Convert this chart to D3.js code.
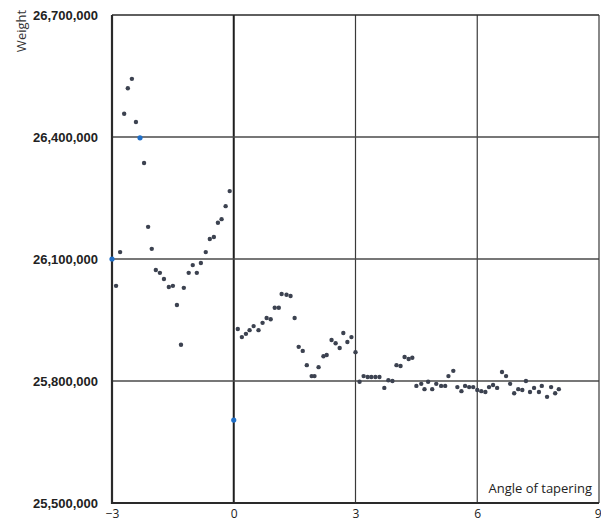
<!DOCTYPE html>
<html>
<head>
<meta charset="utf-8">
<script src="https://cdn.jsdelivr.net/npm/d3@7"></script>
<style>
  html, body { margin: 0; padding: 0; background: #fff; }
  svg { display: block; }
</style>
</head>
<body>
<svg id="chart" width="601" height="522"></svg>
<script>
/* data */
const angle = [
  -2.9, -2.8, -2.7, -2.61, -2.51, -2.41, -2.21, -2.11, -2.02, -1.92,
  -1.82, -1.72, -1.6, -1.5, -1.4, -1.3, -1.23, -1.11, -1.01, -0.91,
  -0.81, -0.69, -0.59, -0.49, -0.39, -0.3, -0.2, -0.1,
  0.1, 0.2, 0.3, 0.39, 0.49, 0.61, 0.71, 0.81, 0.91, 1.01,
  1.11, 1.18, 1.3, 1.4, 1.5, 1.6, 1.7, 1.8, 1.92, 1.99,
  2.09, 2.21, 2.29, 2.41, 2.51, 2.61, 2.7, 2.8, 2.9, 3.0,
  3.1, 3.2, 3.3, 3.39, 3.49, 3.59, 3.71, 3.81, 3.91, 4.01,
  4.11, 4.21, 4.31, 4.4, 4.5, 4.62, 4.7, 4.79, 4.89, 4.99,
  5.11, 5.21, 5.29, 5.41, 5.51, 5.61, 5.7, 5.8, 5.9, 6.0,
  6.1, 6.2, 6.29, 6.39, 6.49, 6.61, 6.71, 6.81, 6.91, 7.01,
  7.11, 7.2, 7.3, 7.4, 7.52, 7.59, 7.72, 7.82, 7.92, 8.01
]
const weight = [
  26034000, 26117000, 26457000, 26520000, 26543000, 26437000, 26336000, 26179000, 26125000, 26073000,
  26066000, 26051000, 26031000, 26034000, 25987000, 25889000, 26029000, 26066000, 26085000, 26066000,
  26090000, 26117000, 26149000, 26154000, 26189000, 26198000, 26230000, 26267000,
  25928000, 25908000, 25916000, 25925000, 25935000, 25925000, 25943000, 25955000, 25952000, 25980000,
  25980000, 26014000, 26012000, 26009000, 25955000, 25884000, 25874000, 25839000, 25812000, 25812000,
  25834000, 25861000, 25864000, 25901000, 25893000, 25881000, 25918000, 25896000, 25908000, 25871000,
  25798000, 25812000, 25810000, 25810000, 25810000, 25810000, 25783000, 25802000, 25800000, 25839000,
  25837000, 25859000, 25854000, 25857000, 25788000, 25793000, 25780000, 25798000, 25780000, 25793000,
  25788000, 25788000, 25812000, 25825000, 25785000, 25775000, 25788000, 25785000, 25785000, 25778000,
  25775000, 25773000, 25785000, 25790000, 25783000, 25822000, 25812000, 25793000, 25770000, 25780000,
  25778000, 25800000, 25773000, 25783000, 25773000, 25788000, 25761000, 25785000, 25770000, 25780000
]
/* highlighted (blue) points */
const hiAngle = [-3, -2.31, 0]
const hiWeight = [26100000, 26398000, 25704000]

const xTicks = [-3, 0, 3, 6, 9]
const yTicks = [25500000, 25800000, 26100000, 26400000, 26700000]
const xLabel = "Angle of tapering"
const yLabel = "Weight"

/* chart dimensions */
const width = 601
const height = 522
const marginTop = 15
const marginRight = 2
const marginBottom = 19
const marginLeft = 112

const svg = d3.select("#chart")

const x = d3.scaleLinear([-3, 9], [marginLeft, width - marginRight])
const y = d3.scaleLinear([25500000, 26700000], [height - marginBottom, marginTop])

/* grid lines */
svg.append("g")
.selectAll("line")
.data(xTicks.slice(1, -1))
.join("line")
.attr("x1", d => x(d))
.attr("x2", d => x(d))
.attr("y1", y(26700000))
.attr("y2", y(25500000))
.attr("stroke", d => d === 0 ? "#1e1e1e" : "#3a3a3a")
.attr("stroke-width", d => d === 0 ? 2 : 1.2)

svg.append("g")
.selectAll("line")
.data(yTicks.slice(1, -1))
.join("line")
.attr("x1", x(-3))
.attr("x2", x(9))
.attr("y1", d => y(d))
.attr("y2", d => y(d))
.attr("stroke", "#4a4a4a")
.attr("stroke-width", 1.4)

/* frame */
svg.append("line")
.attr("x1", x(-3)).attr("x2", x(9))
.attr("y1", y(26700000)).attr("y2", y(26700000))
.attr("stroke", "#2a2a2a").attr("stroke-width", 1.5)
svg.append("line")
.attr("x1", x(9)).attr("x2", x(9))
.attr("y1", y(26700000)).attr("y2", y(25500000))
.attr("stroke", "#3a3a3a").attr("stroke-width", 1.2)
svg.append("line")
.attr("x1", x(-3)).attr("x2", x(-3))
.attr("y1", y(26700000)).attr("y2", y(25500000) + 1)
.attr("stroke", "#2a2a2a").attr("stroke-width", 2.2)
svg.append("line")
.attr("x1", x(-3)).attr("x2", x(9))
.attr("y1", y(25500000)).attr("y2", y(25500000))
.attr("stroke", "#2a2a2a").attr("stroke-width", 2.2)

/* x axis ticks */
svg.append("g")
.attr("transform", `translate(0, ${height - marginBottom})`)
.call(d3.axisBottom(x).tickValues(xTicks).tickSize(0).tickPadding(6).tickFormat(d3.format("d")))
.call(g => g.select(".domain").remove())
.call(g => g.selectAll(".tick text")
  .attr("font-family", "'Open Sans', sans-serif")
  .attr("font-size", 12)
  .attr("fill", "#222"))
/* last label sits at the window edge; keep it fully inside */
.call(g => g.selectAll(".tick text").filter(d => d === 9)
  .attr("text-anchor", "end")
  .attr("dx", 2))

/* y axis ticks */
svg.append("g")
.attr("transform", `translate(${marginLeft}, 0)`)
.call(d3.axisLeft(y).tickValues(yTicks).tickSize(0).tickPadding(14).tickFormat(d3.format(",")))
.call(g => g.select(".domain").remove())
.call(g => g.selectAll(".tick text")
  .attr("font-family", "'Liberation Sans', Arial, sans-serif")
  .attr("font-weight", "bold")
  .attr("font-size", 13)
  .attr("fill", "#222"))

/* axis titles */
svg.append("text")
.attr("transform", `translate(${26}, ${31}) rotate(-90)`)
.attr("text-anchor", "middle")
.attr("font-family", "'Open Sans', sans-serif")
.attr("font-size", 13)
.attr("fill", "#333")
.text(yLabel)

svg.append("text")
.attr("x", width - 9)
.attr("y", y(25500000) - 10)
.attr("text-anchor", "end")
.attr("font-family", "'Open Sans', sans-serif")
.attr("font-size", 13)
.attr("fill", "#222")
.text(xLabel)

/* scatter points */
const points = angle.map((a, i) => [a, weight[i]])
svg.append("g")
.selectAll("circle")
.data(points)
.join("circle")
.attr("cx", d => x(d[0]))
.attr("cy", d => y(d[1]))
.attr("r", 2.2)
.attr("fill", "#3c4250")

svg.append("g")
.selectAll("circle")
.data(hiAngle.map((a, i) => [a, hiWeight[i]]))
.join("circle")
.attr("cx", d => x(d[0]))
.attr("cy", d => y(d[1]))
.attr("r", 2.6)
.attr("fill", "#1f6fc8")
</script>
</body>
</html>
